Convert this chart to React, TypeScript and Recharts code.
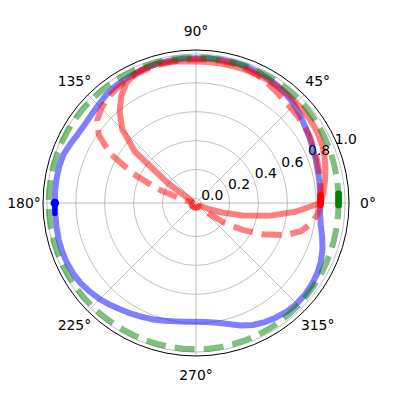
import { RadarChart, Radar, PolarGrid, PolarAngleAxis, PolarRadiusAxis } from "recharts";

// theta samples every 5 degrees (counter-clockwise from 0)
const angles = [
  0, 5, 10, 15, 20, 25, 30, 35, 40, 45, 50, 55, 60, 65, 70, 75, 80, 85,
  90, 95, 100, 105, 110, 115, 120, 125, 130, 135, 140, 145, 150, 155, 160, 165, 170, 175,
  180, 185, 190, 195, 200, 205, 210, 215, 220, 225, 230, 235, 240, 245, 250, 255, 260, 265,
  270, 275, 280, 285, 290, 295, 300, 305, 310, 315, 320, 325, 330, 335, 340, 345, 350, 355,
];

const angleLabels = ["0°", "45°", "90°", "135°", "180°", "225°", "270°", "315°"];
const gridAngles = [0, 45, 90, 135, 180, 225, 270, 315];
const radiusTicks = [0, 0.2, 0.4, 0.6, 0.8, 1.0];
const radiusDomain = [-0.032, 1.027];

const blueLine = [
  0.83, 0.83, 0.835, 0.84, 0.85, 0.86, 0.875, 0.89, 0.91, 0.93, 0.945, 0.955, 0.965, 0.97, 0.975, 0.975, 0.975, 0.972,
  0.97, 0.97, 0.97, 0.97, 0.965, 0.96, 0.955, 0.95, 0.94, 0.925, 0.915, 0.91, 0.915, 0.93, 0.945, 0.948, 0.948, 0.947,
  0.945, 0.945, 0.948, 0.952, 0.953, 0.953, 0.948, 0.94, 0.925, 0.91, 0.89, 0.87, 0.855, 0.84, 0.826, 0.812, 0.8, 0.793,
  0.79, 0.795, 0.81, 0.835, 0.87, 0.9, 0.92, 0.935, 0.948, 0.954, 0.953, 0.948, 0.938, 0.922, 0.9, 0.872, 0.845, 0.83,
];

const greenLine = [
  0.955, 0.956, 0.958, 0.96, 0.963, 0.966, 0.969, 0.972, 0.975, 0.977, 0.978, 0.978, 0.978, 0.977, 0.976, 0.975, 0.975, 0.975,
  0.976, 0.977, 0.978, 0.979, 0.98, 0.981, 0.982, 0.983, 0.984, 0.985, 0.986, 0.987, 0.987, 0.988, 0.988, 0.988, 0.988, 0.988,
  0.988, 0.988, 0.988, 0.987, 0.987, 0.986, 0.985, 0.984, 0.983, 0.982, 0.981, 0.98, 0.98, 0.98, 0.98, 0.98, 0.98, 0.98,
  0.98, 0.98, 0.979, 0.978, 0.977, 0.976, 0.975, 0.973, 0.971, 0.969, 0.967, 0.965, 0.963, 0.961, 0.959, 0.957, 0.956, 0.955,
];

const redSolidLine = [
  0.83, 0.855, 0.875, 0.895, 0.915, 0.93, 0.94, 0.945, 0.948, 0.95, 0.952, 0.953, 0.953, 0.952, 0.951, 0.95, 0.948, 0.947,
  0.947, 0.952, 0.96, 0.967, 0.968, 0.96, 0.93, 0.87, 0.79, 0.69, 0.52, 0.2, 0.02, 0, 0, 0, 0, 0,
  0, 0, 0, 0, 0, 0, 0, 0, 0, 0, 0, 0, 0, 0, 0, 0, 0, 0,
  0, 0, 0, 0, 0, 0, 0, 0, 0, 0, 0, 0.005, 0.02, 0.07, 0.16, 0.3, 0.48, 0.66,
];

const redDashedLine = [
  0.83, 0.835, 0.842, 0.85, 0.858, 0.868, 0.88, 0.888, 0.893, 0.898, 0.905, 0.92, 0.937, 0.952, 0.963, 0.968, 0.968, 0.966,
  0.964, 0.962, 0.96, 0.958, 0.955, 0.95, 0.942, 0.932, 0.918, 0.895, 0.86, 0.79, 0.655, 0.45, 0.25, 0.07, 0, 0,
  0, 0, 0, 0, 0, 0, 0, 0, 0, 0, 0, 0, 0, 0, 0, 0, 0, 0,
  0, 0, 0, 0, 0, 0, 0, 0, 0, 0.02, 0.08, 0.21, 0.34, 0.48, 0.62, 0.72, 0.78, 0.815,
];

const rows = angles.map((angle, i) => ({
  angle,
  blue: blueLine[i],
  green: greenLine[i],
  redSolid: redSolidLine[i],
  redDashed: redDashedLine[i],
}));

const FONT = "DejaVu Sans, sans-serif";

function AngleTick(props: any) {
  const { x, y, payload } = props;
  const k = gridAngles.indexOf(Number(payload.value));
  if (k < 0) return <g />;
  return (
    <text x={x} y={y} textAnchor="middle" dominantBaseline="central" fontSize={13.9} fill="#000" fontFamily={FONT}>
      {angleLabels[k]}
    </text>
  );
}

function RadiusTick(props: any) {
  const { x, y, payload } = props;
  return (
    <text x={x + 1} y={y - 6.5} textAnchor="start" dominantBaseline="central" fontSize={13.9} fill="#000" fontFamily={FONT}>
      {Number(payload.value).toFixed(1)}
    </text>
  );
}

// stacked markers drawn at one point of a line
function markerStack(color: string, at: number, offsets: number[], radii: number[]) {
  return (props: any) => {
    const { cx, cy, index } = props;
    if (index !== at) return <g key={`dot-${index}`} />;
    return (
      <g key={`dot-${index}`}>
        {offsets.map((dy, k) => (
          <circle key={k} cx={cx} cy={cy + dy} r={radii[k]} fill={color} />
        ))}
      </g>
    );
  };
}

const blueDots = markerStack("#0000ff", 36, [0, 4.5, 7.5, 10.5], [4.3, 2.7, 2.7, 2.7]);
const redDots = markerStack("#ff0000", 0, [-7.5, -4.5, -1.5, 1.5], [3.4, 3.4, 3.4, 3.4]);
const greenDots = markerStack("#008000", 0, [-9, -6, -3, 0, 2], [3.4, 3.4, 3.4, 3.4, 3.4]);

export default function App() {
  return (
    <div style={{ margin: -8, width: 395, height: 402, background: "#fff" }}>
      <RadarChart
        width={395}
        height={402}
        data={rows}
        cx={196}
        cy={203}
        innerRadius={0}
        outerRadius={153}
        startAngle={0}
        endAngle={360}
        margin={{ top: 0, right: 0, bottom: 0, left: 0 }}
      >
        <PolarGrid gridType="circle" polarAngles={gridAngles} stroke="#b0b0b0" strokeWidth={0.8} />
        <PolarAngleAxis
          dataKey="angle"
          type="number"
          domain={[0, 360]}
          ticks={gridAngles}
          tick={AngleTick}
          tickLine={false}
          tickSize={19}
          axisLineType="circle"
          axisLine={{ stroke: "#000", strokeWidth: 1 }}
        />
        <PolarRadiusAxis
          type="number"
          angle={22.5}
          domain={radiusDomain}
          ticks={radiusTicks}
          allowDataOverflow
          axisLine={false}
          tickLine={false}
          tick={RadiusTick}
        />
        <Radar
          dataKey="blue"
          stroke="#0000ff"
          strokeOpacity={0.5}
          strokeWidth={6}
          strokeLinejoin="round"
          fill="none"
          fillOpacity={0}
          dot={blueDots}
          isAnimationActive={false}
        />
        <Radar
          dataKey="redSolid"
          stroke="#ff0000"
          strokeOpacity={0.5}
          strokeWidth={6}
          strokeLinejoin="round"
          fill="none"
          fillOpacity={0}
          dot={redDots}
          isAnimationActive={false}
        />
        <Radar
          dataKey="redDashed"
          stroke="#ff0000"
          strokeOpacity={0.5}
          strokeWidth={6}
          strokeDasharray="20 9"
          fill="none"
          fillOpacity={0}
          dot={false}
          isAnimationActive={false}
        />
        <Radar
          dataKey="green"
          stroke="#008000"
          strokeOpacity={0.5}
          strokeWidth={6}
          strokeDasharray="20 9"
          fill="none"
          fillOpacity={0}
          dot={greenDots}
          isAnimationActive={false}
        />
      </RadarChart>
    </div>
  );
}
